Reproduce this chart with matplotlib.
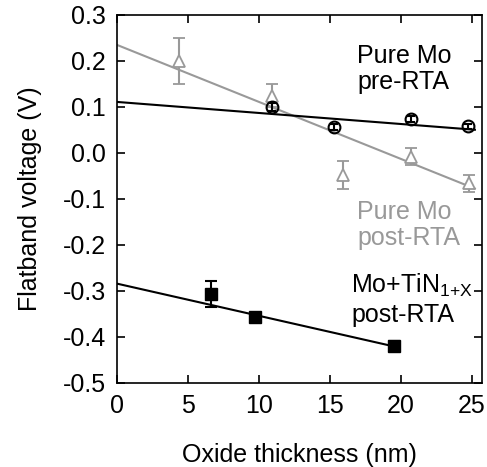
import numpy as np
import matplotlib
matplotlib.use("Agg")
import matplotlib.pyplot as plt

plt.rcParams["font.family"] = ["Liberation Sans", "DejaVu Sans"]

# =========================
# DATA
# =========================
# Pure Mo, pre-RTA (open circles)
pre_x = [10.9, 15.3, 20.7, 24.7]
pre_y = [0.100, 0.057, 0.074, 0.058]
pre_err = [0.008, 0.006, 0.006, 0.006]
pre_fit = [0.111, -0.0024]  # intercept, slope

# Pure Mo, post-RTA (open triangles, gray)
post_x = [4.35, 10.9, 15.9, 20.7, 24.8]
post_y = [0.200, 0.124, -0.048, -0.008, -0.066]
post_err = [0.050, 0.025, 0.030, 0.019, 0.018]
post_fit = [0.235, -0.0124]

# Mo+TiN1+X, post-RTA (filled squares)
tin_x = [6.6, 9.7, 19.5]
tin_y = [-0.306, -0.356, -0.419]
tin_err = [0.028, 0.008, 0.010]
tin_fit = [-0.284, -0.0070]

yticks = [-0.5, -0.4, -0.3, -0.2, -0.1, 0.0, 0.1, 0.2, 0.3]
ytick_labels = ["-0.5", "-0.4", "-0.3", "-0.2", "-0.1", "0.0", "0.1", "0.2", "0.3"]

GRAY = "#999999"
FS = 18

# =========================
# FIGURE
# =========================
fig = plt.figure(figsize=(4.87, 4.67), dpi=100)
ax = fig.add_axes([0.2402, 0.1799, 0.7495, 0.788])

# fit lines
xs = np.array([0, 25.2])
ax.plot(xs, pre_fit[0] + pre_fit[1] * xs, color="black", lw=1.5, zorder=2)
ax.plot(xs, post_fit[0] + post_fit[1] * xs, color=GRAY, lw=1.5, zorder=1)
xs2 = np.array([0, 19.9])
ax.plot(xs2, tin_fit[0] + tin_fit[1] * xs2, color="black", lw=1.5, zorder=2)

# data points
ax.errorbar(post_x, post_y, yerr=post_err, fmt="^", ms=9, mfc="white",
            mec=GRAY, mew=1.3, ecolor=GRAY, elinewidth=1.5, capsize=4, capthick=1.5, zorder=3)
ax.errorbar(pre_x, pre_y, yerr=pre_err, fmt="o", ms=8.5, mfc="none",
            mec="black", mew=1.5, ecolor="black", elinewidth=1.5, capsize=3, capthick=1.5, zorder=4)
ax.errorbar(tin_x, tin_y, yerr=tin_err, fmt="s", ms=9, mfc="black",
            mec="black", ecolor="black", elinewidth=1.5, capsize=4, capthick=1.5, zorder=4)

# labels
ax.text(16.9, 0.1825, "Pure Mo\npre-RTA", fontsize=FS, color="black",
        va="center", ha="left", linespacing=1.1)
ax.text(16.9, -0.157, "Pure Mo\npost-RTA", fontsize=FS, color=GRAY,
        va="center", ha="left", linespacing=1.1)
ax.text(16.5, -0.318, "Mo+TiN$_{\\mathregular{1{+}X}}$\npost-RTA", fontsize=FS, color="black",
        va="center", ha="left", linespacing=1.2)

# axes
ax.set_xlim(0, 25.7)
ax.set_ylim(-0.5, 0.3)
ax.set_xticks([0, 5, 10, 15, 20, 25])
ax.set_yticks(yticks)
ax.set_yticklabels(ytick_labels)
ax.tick_params(direction="in", length=6, width=1.2, top=True, right=True,
               labelsize=FS, pad=8)
for s in ax.spines.values():
    s.set_linewidth(1.2)

ax.set_xlabel("Oxide thickness (nm)", fontsize=FS, labelpad=18)
ax.set_ylabel("Flatband voltage (V)", fontsize=FS, labelpad=15)

fig.savefig("out.png", dpi=100)
